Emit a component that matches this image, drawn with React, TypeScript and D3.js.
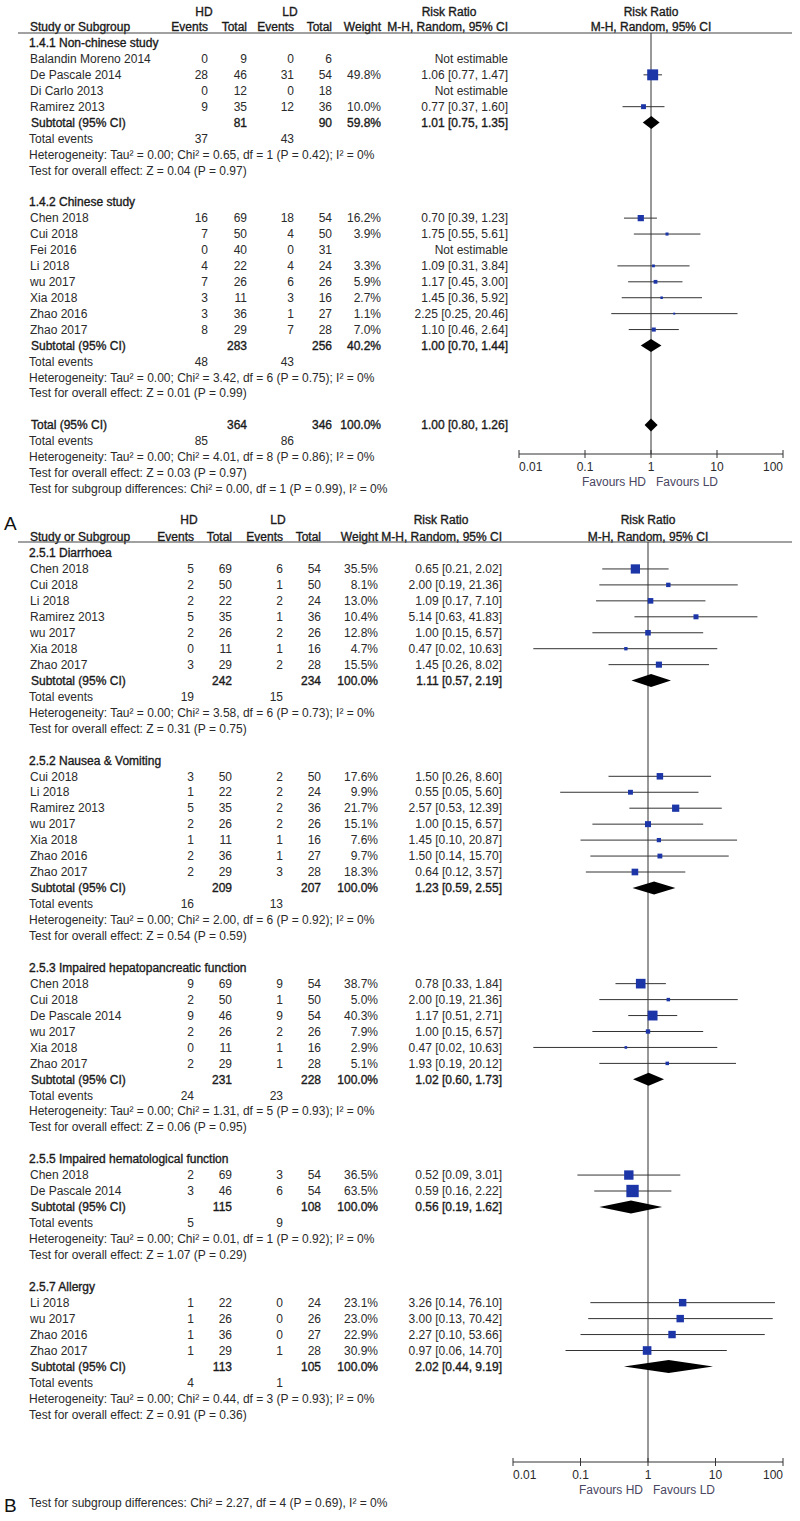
import React from "react";
import { scaleLog, scaleLinear } from "d3";

// ---- data ----
type Study = { name: string; hdE: number; hdT: number; ldE: number; ldT: number; w: number | null; rr: number | null; lo: number | null; hi: number | null };
type Sub = { label: string; hdT: number; ldT: number; w: number; rr: number; lo: number; hi: number };

const st = (name: string, hdE: number, hdT: number, ldE: number, ldT: number, w: number | null, rr: number | null, lo: number | null, hi: number | null): Study => ({ name, hdE, hdT, ldE, ldT, w, rr, lo, hi });

const axisTicks = [0.01, 0.1, 1, 10, 100];
const axisTickLabels = ["0.01", "0.1", "1", "10", "100"];

// panel A
const a141Studies: Study[] = [
  st("Balandin Moreno 2014", 0, 9, 0, 6, null, null, null, null),
  st("De Pascale 2014", 28, 46, 31, 54, 49.8, 1.06, 0.77, 1.47),
  st("Di Carlo 2013", 0, 12, 0, 18, null, null, null, null),
  st("Ramirez 2013", 9, 35, 12, 36, 10.0, 0.77, 0.37, 1.6),
];
const a142Studies: Study[] = [
  st("Chen 2018", 16, 69, 18, 54, 16.2, 0.7, 0.39, 1.23),
  st("Cui 2018", 7, 50, 4, 50, 3.9, 1.75, 0.55, 5.61),
  st("Fei 2016", 0, 40, 0, 31, null, null, null, null),
  st("Li 2018", 4, 22, 4, 24, 3.3, 1.09, 0.31, 3.84),
  st("wu 2017", 7, 26, 6, 26, 5.9, 1.17, 0.45, 3.0),
  st("Xia 2018", 3, 11, 3, 16, 2.7, 1.45, 0.36, 5.92),
  st("Zhao 2016", 3, 36, 1, 27, 1.1, 2.25, 0.25, 20.46),
  st("Zhao 2017", 8, 29, 7, 28, 7.0, 1.1, 0.46, 2.64),
];
const aTitles = ["1.4.1 Non-chinese study", "1.4.2 Chinese study"];
const aSubtotals: Sub[] = [
  { label: "Subtotal (95% CI)", hdT: 81, ldT: 90, w: 59.8, rr: 1.01, lo: 0.75, hi: 1.35 },
  { label: "Subtotal (95% CI)", hdT: 283, ldT: 256, w: 40.2, rr: 1.0, lo: 0.7, hi: 1.44 },
];
const aEvents = [[37, 43], [48, 43]];
const aHet = [
  "Heterogeneity: Tau² = 0.00; Chi² = 0.65, df = 1 (P = 0.42); I² = 0%",
  "Heterogeneity: Tau² = 0.00; Chi² = 3.42, df = 6 (P = 0.75); I² = 0%",
];
const aOverall = ["Test for overall effect: Z = 0.04 (P = 0.97)", "Test for overall effect: Z = 0.01 (P = 0.99)"];
const aTotal: Sub = { label: "Total (95% CI)", hdT: 364, ldT: 346, w: 100.0, rr: 1.0, lo: 0.8, hi: 1.26 };
const aTotalEvents = [85, 86];
const aTotalNotes = [
  "Heterogeneity: Tau² = 0.00; Chi² = 4.01, df = 8 (P = 0.86); I² = 0%",
  "Test for overall effect: Z = 0.03 (P = 0.97)",
  "Test for subgroup differences: Chi² = 0.00, df = 1 (P = 0.99), I² = 0%",
];

// panel B
const b251Studies: Study[] = [
  st("Chen 2018", 5, 69, 6, 54, 35.5, 0.65, 0.21, 2.02),
  st("Cui 2018", 2, 50, 1, 50, 8.1, 2.0, 0.19, 21.36),
  st("Li 2018", 2, 22, 2, 24, 13.0, 1.09, 0.17, 7.1),
  st("Ramirez 2013", 5, 35, 1, 36, 10.4, 5.14, 0.63, 41.83),
  st("wu 2017", 2, 26, 2, 26, 12.8, 1.0, 0.15, 6.57),
  st("Xia 2018", 0, 11, 1, 16, 4.7, 0.47, 0.02, 10.63),
  st("Zhao 2017", 3, 29, 2, 28, 15.5, 1.45, 0.26, 8.02),
];
const b252Studies: Study[] = [
  st("Cui 2018", 3, 50, 2, 50, 17.6, 1.5, 0.26, 8.6),
  st("Li 2018", 1, 22, 2, 24, 9.9, 0.55, 0.05, 5.6),
  st("Ramirez 2013", 5, 35, 2, 36, 21.7, 2.57, 0.53, 12.39),
  st("wu 2017", 2, 26, 2, 26, 15.1, 1.0, 0.15, 6.57),
  st("Xia 2018", 1, 11, 1, 16, 7.6, 1.45, 0.1, 20.87),
  st("Zhao 2016", 2, 36, 1, 27, 9.7, 1.5, 0.14, 15.7),
  st("Zhao 2017", 2, 29, 3, 28, 18.3, 0.64, 0.12, 3.57),
];
const b253Studies: Study[] = [
  st("Chen 2018", 9, 69, 9, 54, 38.7, 0.78, 0.33, 1.84),
  st("Cui 2018", 2, 50, 1, 50, 5.0, 2.0, 0.19, 21.36),
  st("De Pascale 2014", 9, 46, 9, 54, 40.3, 1.17, 0.51, 2.71),
  st("wu 2017", 2, 26, 2, 26, 7.9, 1.0, 0.15, 6.57),
  st("Xia 2018", 0, 11, 1, 16, 2.9, 0.47, 0.02, 10.63),
  st("Zhao 2017", 2, 29, 1, 28, 5.1, 1.93, 0.19, 20.12),
];
const b255Studies: Study[] = [
  st("Chen 2018", 2, 69, 3, 54, 36.5, 0.52, 0.09, 3.01),
  st("De Pascale 2014", 3, 46, 6, 54, 63.5, 0.59, 0.16, 2.22),
];
const b257Studies: Study[] = [
  st("Li 2018", 1, 22, 0, 24, 23.1, 3.26, 0.14, 76.1),
  st("wu 2017", 1, 26, 0, 26, 23.0, 3.0, 0.13, 70.42),
  st("Zhao 2016", 1, 36, 0, 27, 22.9, 2.27, 0.1, 53.66),
  st("Zhao 2017", 1, 29, 1, 28, 30.9, 0.97, 0.06, 14.7),
];
const bTitles = [
  "2.5.1 Diarrhoea",
  "2.5.2 Nausea & Vomiting",
  "2.5.3 Impaired hepatopancreatic function",
  "2.5.5 Impaired hematological function",
  "2.5.7 Allergy",
];
const bSubtotals: Sub[] = [
  { label: "Subtotal (95% CI)", hdT: 242, ldT: 234, w: 100.0, rr: 1.11, lo: 0.57, hi: 2.19 },
  { label: "Subtotal (95% CI)", hdT: 209, ldT: 207, w: 100.0, rr: 1.23, lo: 0.59, hi: 2.55 },
  { label: "Subtotal (95% CI)", hdT: 231, ldT: 228, w: 100.0, rr: 1.02, lo: 0.6, hi: 1.73 },
  { label: "Subtotal (95% CI)", hdT: 115, ldT: 108, w: 100.0, rr: 0.56, lo: 0.19, hi: 1.62 },
  { label: "Subtotal (95% CI)", hdT: 113, ldT: 105, w: 100.0, rr: 2.02, lo: 0.44, hi: 9.19 },
];
const bEvents = [[19, 15], [16, 13], [24, 23], [5, 9], [4, 1]];
const bHet = [
  "Heterogeneity: Tau² = 0.00; Chi² = 3.58, df = 6 (P = 0.73); I² = 0%",
  "Heterogeneity: Tau² = 0.00; Chi² = 2.00, df = 6 (P = 0.92); I² = 0%",
  "Heterogeneity: Tau² = 0.00; Chi² = 1.31, df = 5 (P = 0.93); I² = 0%",
  "Heterogeneity: Tau² = 0.00; Chi² = 0.01, df = 1 (P = 0.92); I² = 0%",
  "Heterogeneity: Tau² = 0.00; Chi² = 0.44, df = 3 (P = 0.93); I² = 0%",
];
const bOverall = [
  "Test for overall effect: Z = 0.31 (P = 0.75)",
  "Test for overall effect: Z = 0.54 (P = 0.59)",
  "Test for overall effect: Z = 0.06 (P = 0.95)",
  "Test for overall effect: Z = 1.07 (P = 0.29)",
  "Test for overall effect: Z = 0.91 (P = 0.36)",
];
const bSubgroupTest = "Test for subgroup differences: Chi² = 2.27, df = 4 (P = 0.69), I² = 0%";

// ---- layout ----
type Row =
  | { kind: "title"; text: string }
  | { kind: "study"; s: Study }
  | { kind: "sub"; s: Sub }
  | { kind: "events"; hd: number; ld: number }
  | { kind: "note"; text: string }
  | { kind: "blank" };

function groupRows(titles: string[], studies: Study[][], subs: Sub[], events: number[][], het: string[], overall: string[]): Row[] {
  const rows: Row[] = [];
  titles.forEach((t, i) => {
    rows.push({ kind: "title", text: t });
    studies[i].forEach((s) => rows.push({ kind: "study", s }));
    rows.push({ kind: "sub", s: subs[i] });
    rows.push({ kind: "events", hd: events[i][0], ld: events[i][1] });
    rows.push({ kind: "note", text: het[i] });
    rows.push({ kind: "note", text: overall[i] });
    rows.push({ kind: "blank" });
  });
  return rows;
}

const rowsA: Row[] = [
  ...groupRows(aTitles, [a141Studies, a142Studies], aSubtotals, aEvents, aHet, aOverall),
  { kind: "sub", s: aTotal },
  { kind: "events", hd: aTotalEvents[0], ld: aTotalEvents[1] },
  ...aTotalNotes.map((t) => ({ kind: "note", text: t } as Row)),
];
const rowsB: Row[] = groupRows(bTitles, [b251Studies, b252Studies, b253Studies, b255Studies, b257Studies], bSubtotals, bEvents, bHet, bOverall);

const FONT = "'Liberation Sans', Arial, sans-serif";
const TXT = "#2a2a2a";
const BLUE = "#1c36a8";
const LINE = "#333";

type Cfg = {
  head1: number; head2: number; rule: number; row0: number; rowH: number;
  cName: number; cHdE: number; cHdT: number; cLdE: number; cLdT: number; cW: number; cRR: number;
  hdCenter: number; ldCenter: number; rrCenter: number; plotCenter: number;
  plotL: number; plotR: number; axisY: number;
};

const cfgA: Cfg = {
  head1: 12, head2: 27, rule: 33, row0: 43, rowH: 15.92,
  cName: 30, cHdE: 208, cHdT: 247, cLdE: 294, cLdT: 332, cW: 381, cRR: 508,
  hdCenter: 204, ldCenter: 290, rrCenter: 449, plotCenter: 651,
  plotL: 519, plotR: 783, axisY: 454,
};
const cfgB: Cfg = {
  head1: 520, head2: 537, rule: 542, row0: 553, rowH: 15.95,
  cName: 30, cHdE: 194, cHdT: 232, cLdE: 283, cLdT: 321, cW: 378, cRR: 502,
  hdCenter: 189, ldCenter: 278, rrCenter: 441, plotCenter: 648,
  plotL: 513, plotR: 783, axisY: 1462,
};

const fmt = (v: number) => v.toFixed(2);
const ciText = (rr: number, lo: number, hi: number) => `${fmt(rr)} [${fmt(lo)}, ${fmt(hi)}]`;

// heavy = the slightly darker header / subtotal text of the source (still regular weight)
function T({ x, y, anchor = "start", heavy = false, fill = TXT, children }: any) {
  return (
    <text
      x={x}
      y={y}
      dy="0.35em"
      textAnchor={anchor}
      fill={heavy ? "#1a1a1a" : fill}
      stroke={heavy ? "#1a1a1a" : "none"}
      strokeWidth={heavy ? 0.35 : 0}
    >
      {children}
    </text>
  );
}

function Panel({ cfg, rows }: { cfg: Cfg; rows: Row[] }) {
  const x = scaleLog().domain([0.01, 100]).range([cfg.plotL, cfg.plotR]);
  const y = scaleLinear().domain([0, 1]).range([cfg.row0, cfg.row0 + cfg.rowH]);
  const side = (w: number) => Math.max(2, 1.55 * Math.sqrt(w));
  const x1 = x(1);

  return (
    <g>
      {/* header */}
      <T x={cfg.hdCenter} y={cfg.head1} anchor="middle" heavy>HD</T>
      <T x={cfg.ldCenter} y={cfg.head1} anchor="middle" heavy>LD</T>
      <T x={cfg.rrCenter} y={cfg.head1} anchor="middle" heavy>Risk Ratio</T>
      <T x={cfg.plotCenter} y={cfg.head1} anchor="middle" heavy>Risk Ratio</T>
      <T x={cfg.cName} y={cfg.head2} heavy>Study or Subgroup</T>
      <T x={cfg.cHdE} y={cfg.head2} anchor="end" heavy>Events</T>
      <T x={cfg.cHdT} y={cfg.head2} anchor="end" heavy>Total</T>
      <T x={cfg.cLdE} y={cfg.head2} anchor="end" heavy>Events</T>
      <T x={cfg.cLdT} y={cfg.head2} anchor="end" heavy>Total</T>
      <T x={cfg.cW} y={cfg.head2} anchor="end" heavy>Weight</T>
      <T x={cfg.cRR} y={cfg.head2} anchor="end" heavy>M-H, Random, 95% CI</T>
      <T x={cfg.plotCenter} y={cfg.head2} anchor="middle" heavy>M-H, Random, 95% CI</T>
      <line x1={18} x2={792} y1={cfg.rule} y2={cfg.rule} stroke="#444" strokeWidth={1.2} />

      {/* null line */}
      <line x1={x1} x2={x1} y1={cfg.rule} y2={cfg.axisY} stroke={LINE} strokeWidth={1} />

      {rows.map((r, i) => {
        const yy = y(i);
        if (r.kind === "title") return <T key={i} x={cfg.cName - 1} y={yy} heavy>{r.text}</T>;
        if (r.kind === "note") return <T key={i} x={cfg.cName - 1} y={yy}>{r.text}</T>;
        if (r.kind === "events")
          return (
            <g key={i}>
              <T x={cfg.cName - 1} y={yy}>Total events</T>
              <T x={cfg.cHdE} y={yy} anchor="end">{r.hd}</T>
              <T x={cfg.cLdE} y={yy} anchor="end">{r.ld}</T>
            </g>
          );
        if (r.kind === "study") {
          const s = r.s;
          return (
            <g key={i}>
              <T x={cfg.cName} y={yy}>{s.name}</T>
              <T x={cfg.cHdE} y={yy} anchor="end">{s.hdE}</T>
              <T x={cfg.cHdT} y={yy} anchor="end">{s.hdT}</T>
              <T x={cfg.cLdE} y={yy} anchor="end">{s.ldE}</T>
              <T x={cfg.cLdT} y={yy} anchor="end">{s.ldT}</T>
              {s.w != null && <T x={cfg.cW} y={yy} anchor="end">{`${s.w.toFixed(1)}%`}</T>}
              <T x={cfg.cRR} y={yy} anchor="end">
                {s.rr == null ? "Not estimable" : ciText(s.rr, s.lo as number, s.hi as number)}
              </T>
              {s.rr != null && (
                <g>
                  <line x1={x(s.lo as number)} x2={x(s.hi as number)} y1={yy} y2={yy} stroke={LINE} strokeWidth={1} />
                  <rect
                    x={x(s.rr) - side(s.w as number) / 2}
                    y={yy - side(s.w as number) / 2}
                    width={side(s.w as number)}
                    height={side(s.w as number)}
                    fill={BLUE}
                  />
                </g>
              )}
            </g>
          );
        }
        if (r.kind === "sub") {
          const s = r.s;
          const h = 6.5;
          const pts = [
            [x(s.lo), yy],
            [x(s.rr), yy - h],
            [x(s.hi), yy],
            [x(s.rr), yy + h],
          ]
            .map((p) => p.join(","))
            .join(" ");
          return (
            <g key={i}>
              <T x={cfg.cName + 1} y={yy} heavy>{s.label}</T>
              <T x={cfg.cHdT} y={yy} anchor="end" heavy>{s.hdT}</T>
              <T x={cfg.cLdT} y={yy} anchor="end" heavy>{s.ldT}</T>
              <T x={cfg.cW} y={yy} anchor="end" heavy>{`${s.w.toFixed(1)}%`}</T>
              <T x={cfg.cRR} y={yy} anchor="end" heavy>{ciText(s.rr, s.lo, s.hi)}</T>
              <polygon points={pts} fill="#000" />
            </g>
          );
        }
        return null;
      })}

      {/* axis */}
      <line x1={cfg.plotL} x2={cfg.plotR} y1={cfg.axisY} y2={cfg.axisY} stroke={LINE} strokeWidth={1} />
      {axisTicks.map((t, i) => (
        <g key={t}>
          <line x1={x(t)} x2={x(t)} y1={cfg.axisY - 4} y2={cfg.axisY + 4} stroke={LINE} strokeWidth={1} />
          <T
            x={x(t)}
            y={cfg.axisY + 13}
            anchor={i === 0 ? "start" : i === axisTicks.length - 1 ? "end" : "middle"}
          >
            {axisTickLabels[i]}
          </T>
        </g>
      ))}
      <T x={x1 - 5} y={cfg.axisY + 28} anchor="end" fill="#4a4662">Favours HD</T>
      <T x={x1 + 5} y={cfg.axisY + 28} fill="#4a4662">Favours LD</T>
    </g>
  );
}

export default function App() {
  const yB = scaleLinear().domain([0, 1]).range([cfgB.row0, cfgB.row0 + cfgB.rowH]);
  return (
    <svg
      width={800}
      height={1521}
      style={{ position: "absolute", left: 0, top: 0, background: "#fff" }}
      fontFamily={FONT}
      fontSize={12}
    >
      <rect width={800} height={1521} fill="#fff" />
      <Panel cfg={cfgA} rows={rowsA} />
      <Panel cfg={cfgB} rows={rowsB} />
      <T x={cfgB.cName - 1} y={yB(59.55)}>{bSubgroupTest}</T>
      <text x={4} y={530} fontSize={19} fill="#111">A</text>
      <text x={4} y={1512} fontSize={19} fill="#111">B</text>
    </svg>
  );
}
